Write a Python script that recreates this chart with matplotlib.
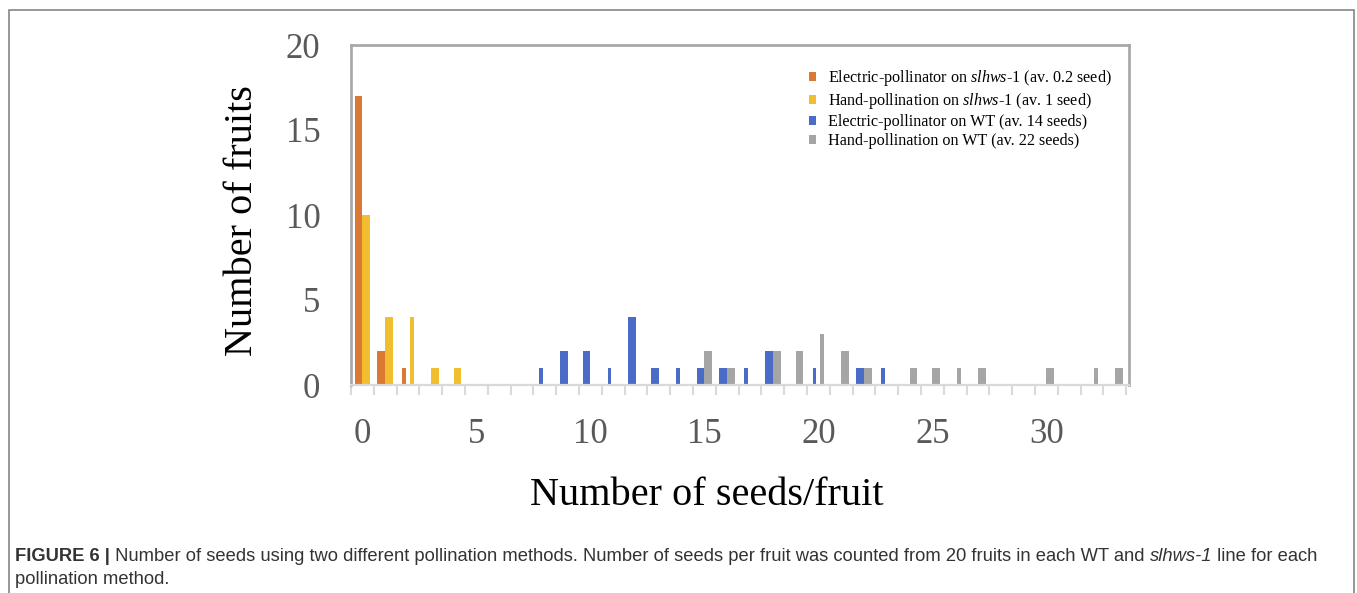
import matplotlib
matplotlib.use('Agg')
import matplotlib.pyplot as plt
from matplotlib.patches import Rectangle
import numpy as np

# seeds per fruit (category axis 0..33)
seeds = np.arange(34)

# number of fruits for each seed count
elec_mut = [17, 2, 1, 0, 0, 0, 0, 0, 0, 0, 0, 0, 0, 0, 0, 0, 0,
            0, 0, 0, 0, 0, 0, 0, 0, 0, 0, 0, 0, 0, 0, 0, 0, 0]
hand_mut = [10, 4, 4, 1, 1, 0, 0, 0, 0, 0, 0, 0, 0, 0, 0, 0, 0,
            0, 0, 0, 0, 0, 0, 0, 0, 0, 0, 0, 0, 0, 0, 0, 0, 0]
elec_wt = [0, 0, 0, 0, 0, 0, 0, 0, 1, 2, 2, 1, 4, 1, 1, 1, 1,
           1, 2, 0, 1, 0, 1, 1, 0, 0, 0, 0, 0, 0, 0, 0, 0, 0]
hand_wt = [0, 0, 0, 0, 0, 0, 0, 0, 0, 0, 0, 0, 0, 0, 0, 2, 1,
           0, 2, 2, 3, 2, 1, 0, 1, 1, 1, 1, 0, 0, 1, 0, 1, 1]

labels = ['Electric-pollinator on $\\mathit{slhws}$-$\\mathit{1}$ (av. 0.2 seed)',
          'Hand-pollination on $\\mathit{slhws}$-$\\mathit{1}$ (av. 1 seed)',
          'Electric-pollinator on WT (av. 14 seeds)',
          'Hand-pollination on WT (av. 22 seeds)']
colors = ['#DA7834', '#F1BE2F', '#4A6CC6', '#A5A5A5']

plt.rcParams['font.family'] = ['Liberation Serif', 'DejaVu Serif']
plt.rcParams['mathtext.fontset'] = 'custom'
plt.rcParams['mathtext.rm'] = 'Liberation Serif'
plt.rcParams['mathtext.it'] = 'Liberation Serif:italic'

W, H = 1357, 593
fig = plt.figure(figsize=(W / 100, H / 100), dpi=100)
ax = fig.add_axes([351 / W, 1 - 385 / H, (1129 - 351) / W, (385 - 45) / H])

bar_w = 0.34
thin_w = 0.16
# every third category came out narrower in the exported chart
widths = np.where(seeds % 3 == 2, thin_w, bar_w)

series = [elec_mut, hand_mut, elec_wt, hand_wt]
sides = [-1, 1, -1, 1]
for vals, col, lab, side in zip(series, colors, labels, sides):
    vals = np.array(vals)
    x = seeds + side * bar_w / 2
    ax.bar(x, vals, width=widths, color=col, label=lab, linewidth=0)

ax.set_xlim(-0.5, 33.62)
ax.set_ylim(0, 20)
ax.set_xticks(np.arange(0, 31, 5))
ax.set_xticks(np.arange(-0.5, 34, 1), minor=True)
ax.set_yticks(np.arange(0, 21, 5))
ax.tick_params(axis='x', which='major', length=0, pad=24, labelsize=25,
               labelcolor='#595959')
ax.tick_params(axis='x', which='minor', length=7.5, width=1.5, color='#d9d9d9')
ax.tick_params(axis='y', length=0, pad=22, labelsize=25, labelcolor='#595959')

for s in ['left', 'top', 'right']:
    ax.spines[s].set_color('#a6a6a6')
    ax.spines[s].set_linewidth(1.9)
ax.spines['bottom'].set_color('#d9d9d9')
ax.spines['bottom'].set_linewidth(1.6)

leg = ax.legend(loc='upper left', bbox_to_anchor=(0.58, 0.95), frameon=False,
                fontsize=11.6, handlelength=0.45, handleheight=0.45,
                handletextpad=0.75, labelspacing=0.18, borderaxespad=0)

fig.text(242 / W, 1 - 221 / H, 'Number of fruits', rotation=90, fontsize=29,
         ha='center', va='center', color='black')
fig.text(707 / W, 1 - 505 / H, 'Number of seeds/fruit', fontsize=29,
         ha='center', va='baseline', color='black')

# outer frame around the figure panel
fig.patches.append(Rectangle((9 / W, -0.05), (1354 - 9) / W, 1.05 - 10 / H,
                             transform=fig.transFigure, fill=False,
                             edgecolor='#7a7a7a', linewidth=1.1))

# caption, drawn as runs so bold/italic parts line up
cap_font = ['Liberation Sans', 'DejaVu Sans']
renderer = fig.canvas.get_renderer()


def draw_runs(runs, x, y):
    for s, weight, style in runs:
        t = fig.text(x / W, 1 - y / H, s, fontsize=13.2, family=cap_font,
                     weight=weight, style=style, color='#333333',
                     va='baseline', ha='left')
        bb = t.get_window_extent(renderer)
        x = bb.x1


draw_runs([('FIGURE 6 |', 'bold', 'normal'),
           (' Number of seeds using two different pollination methods. '
            'Number of seeds per fruit was counted from 20 fruits in each WT and ',
            'normal', 'normal'),
           ('slhws-1', 'normal', 'italic'),
           (' line for each', 'normal', 'normal')], 15, 561)
draw_runs([('pollination method.', 'normal', 'normal')], 15, 584)

fig.savefig('out.png', dpi=100)
